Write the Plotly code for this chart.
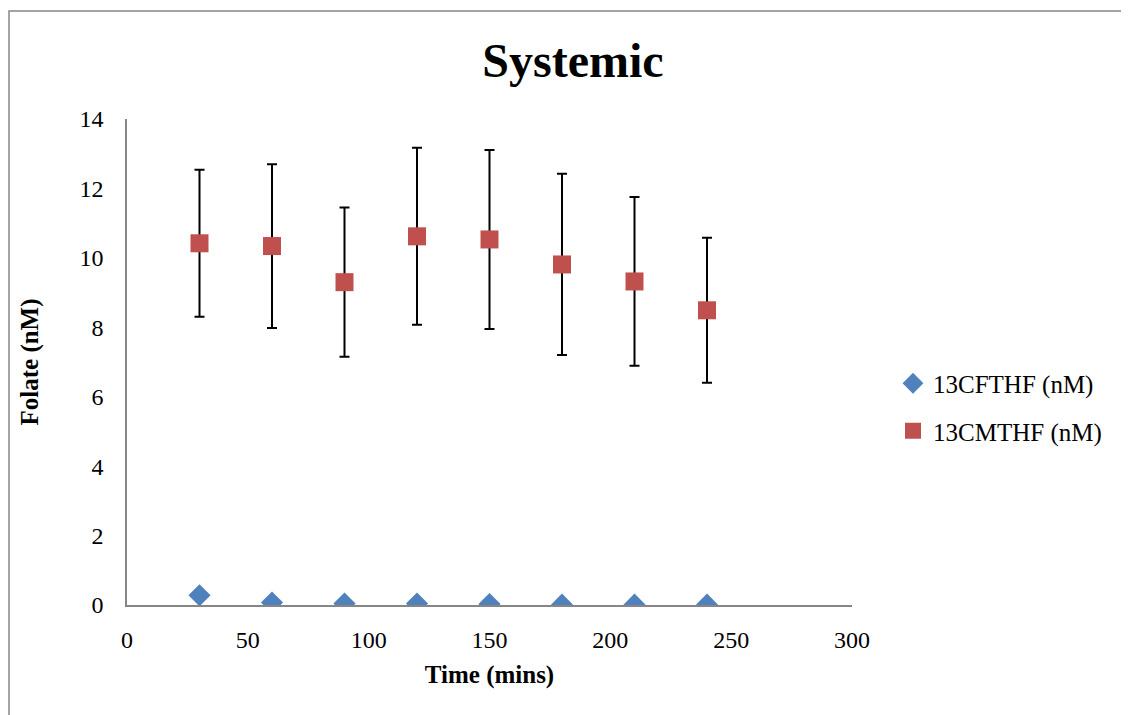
import plotly.graph_objects as go

time_mins = [30, 60, 90, 120, 150, 180, 210, 240]
fthf_values = [0.28, 0.07, 0.04, 0.04, 0.03, 0.01, 0.01, 0.01]
fthf_err = [0.06, 0.03, 0.02, 0.02, 0.02, 0.01, 0.01, 0.01]
mthf_values = [10.42, 10.34, 9.30, 10.62, 10.53, 9.81, 9.32, 8.49]
mthf_err = [2.12, 2.36, 2.15, 2.55, 2.58, 2.61, 2.43, 2.09]

series_names = ["13CFTHF (nM)", "13CMTHF (nM)"]
x_ticks = [0, 50, 100, 150, 200, 250, 300]
y_ticks = [0, 2, 4, 6, 8, 10, 12, 14]

FONT = "Liberation Serif, Times New Roman, serif"
AXIS_GRAY = "#868686"

fig = go.Figure()
fig.add_trace(go.Scatter(
    x=time_mins, y=fthf_values, mode="markers", name=series_names[0],
    legendgroup="a",
    marker=dict(symbol="diamond", size=17, color="#4F81BD"),
    error_y=dict(type="data", array=fthf_err, visible=True, color="black",
                 thickness=2, width=5),
))
fig.add_trace(go.Scatter(
    x=time_mins, y=mthf_values, mode="markers", name=series_names[1],
    legendgroup="b",
    marker=dict(symbol="square", size=18, color="#C0504D"),
    error_y=dict(type="data", array=mthf_err, visible=True, color="black",
                 thickness=2, width=5),
))

OFF = 8  # page body margin
L, R, T, B = 127 - OFF, 277, 119 - OFF, 110
W, H = 1129 - OFF, 715 - OFF
pw, ph = W - L - R, H - T - B

fig.update_layout(
    width=W, height=H,
    margin=dict(l=L, r=R, t=T, b=B),
    paper_bgcolor="white", plot_bgcolor="white",
    font=dict(family=FONT, color="black", size=24),
    title=dict(text="<b>Systemic</b>", x=(573 - OFF) / W, xanchor="center",
               y=1 - (60 - OFF) / H, yanchor="middle",
               font=dict(family=FONT, size=48, color="black")),
    showlegend=True,
    legend=dict(x=(893 - 127) / pw, xanchor="left", y=(605 - 407) / ph,
                yanchor="middle", font=dict(family=FONT, size=25),
                tracegroupgap=12, bgcolor="rgba(0,0,0,0)"),
    xaxis=dict(range=[0, 300], tickvals=x_ticks, showgrid=False,
               zeroline=False, showline=True, linecolor=AXIS_GRAY,
               linewidth=1.5, ticks="", ticklabelstandoff=12,
               tickfont=dict(family=FONT, size=24),
               title=dict(text="<b>Time (mins)</b>", standoff=14,
                          font=dict(family=FONT, size=25))),
    yaxis=dict(range=[0, 14], tickvals=y_ticks, showgrid=False,
               zeroline=False, showline=True, linecolor=AXIS_GRAY,
               linewidth=1.5, ticks="", ticklabelstandoff=17,
               tickfont=dict(family=FONT, size=24),
               title=dict(text="<b>Folate (nM)</b>", standoff=34,
                          font=dict(family=FONT, size=25))),
)

fig.add_shape(type="rect", xref="paper", yref="paper",
              x0=(OFF + 1 - 127) / pw, x1=(1140 - 127) / pw,
              y0=(605 - 725) / ph, y1=(605 - 11) / ph,
              line=dict(color=AXIS_GRAY, width=1.5), fillcolor="rgba(0,0,0,0)",
              layer="below")

fig.write_html("out.html")
